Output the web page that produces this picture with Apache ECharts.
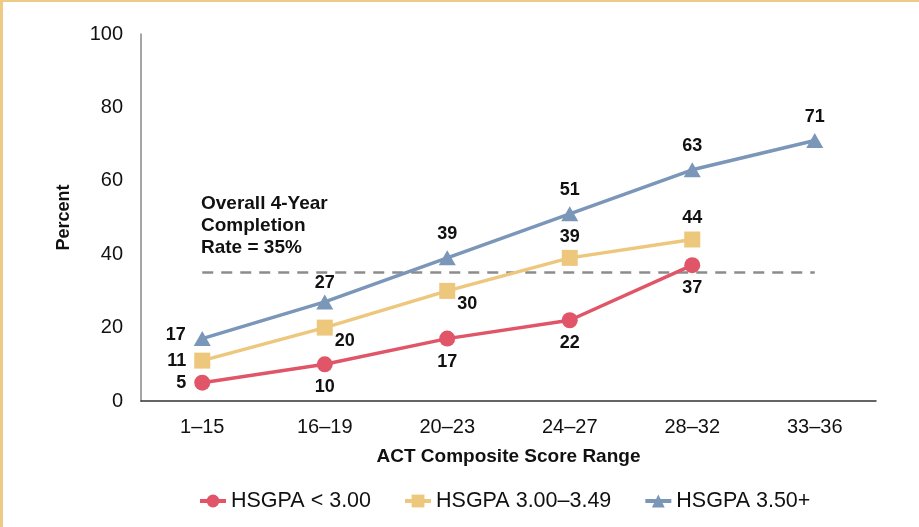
<!DOCTYPE html>
<html>
<head>
<meta charset="utf-8">
<script src="https://cdn.jsdelivr.net/npm/echarts@6/dist/echarts.min.js"></script>
<style>
  html, body { margin: 0; padding: 0; background: #fff; }
  #wrap { position: relative; width: 919px; height: 527px; overflow: hidden; }
  #chart { position: absolute; left: 0; top: 0; width: 919px; height: 527px; }
  .bl { position: absolute; left: 0; top: 0; width: 3px; height: 527px; background: #EDCB87; }
  .bt { position: absolute; left: 0; top: 0; width: 919px; height: 2px; background: #EDCB87; }
</style>
</head>
<body>
<div id="wrap">
  <div id="chart"></div>
  <div class="bl"></div>
  <div class="bt"></div>
</div>
<script>
const categories = ['1–15', '16–19', '20–23', '24–27', '28–32', '33–36'];
const seriesNames = ['HSGPA < 3.00', 'HSGPA 3.00–3.49', 'HSGPA 3.50+'];
const lowGpa = [5, 10, 17, 22, 37, null];
const midGpa = [11, 20, 30, 39, 44, null];
const highGpa = [17, 27, 39, 51, 63, 71];
const overallRate = 35;
const overallLine = categories.map(() => overallRate);
const yTicks = [0, 20, 40, 60, 80, 100];
const annotation = 'Overall 4-Year\nCompletion\nRate = 35%';

const FONT = '"Liberation Sans", Arial, Helvetica, sans-serif';
const RED = '#E05568';
const YEL = '#EDC77C';
const BLUE = '#7A96B8';

const labelBase = { show: true, color: '#111', fontWeight: 'bold', fontSize: 18, fontFamily: FONT };

function withLabels(values, fn) {
  return values.map((v, i) => {
    if (v === null) return null;
    const lab = fn(i);
    return lab ? { value: v, label: lab } : v;
  });
}

const chart = echarts.init(document.getElementById('chart'), null, { renderer: 'canvas' });
chart.setOption({
  animation: false,
  backgroundColor: '#fff',
  grid: { left: 141, right: 43, top: 34, bottom: 126, containLabel: false },
  legend: {
    data: seriesNames,
    left: 193, top: 485,
    itemWidth: 26, itemHeight: 16, itemGap: 32,
    lineStyle: { width: 4 },
    textStyle: { fontSize: 21.5, color: '#111', fontFamily: FONT }
  },
  xAxis: {
    type: 'category',
    data: categories,
    boundaryGap: true,
    axisLine: { show: true, lineStyle: { color: '#333', width: 1.5 } },
    axisTick: { show: false },
    axisLabel: { fontSize: 20, color: '#111', fontFamily: FONT, margin: 16 },
    name: 'ACT Composite Score Range',
    nameLocation: 'middle',
    nameGap: 46,
    nameTextStyle: { fontSize: 19, fontWeight: 'bold', color: '#111', fontFamily: FONT }
  },
  yAxis: {
    type: 'value',
    min: yTicks[0], max: yTicks[yTicks.length - 1], interval: yTicks[1] - yTicks[0],
    splitLine: { show: false },
    axisLine: { show: true, lineStyle: { color: '#888', width: 1.5 } },
    axisTick: { show: false },
    axisLabel: { fontSize: 20, color: '#111', fontFamily: FONT, margin: 18 },
    name: 'Percent',
    nameLocation: 'middle',
    nameGap: 68,
    nameRotate: 90,
    nameTextStyle: { fontSize: 18, fontWeight: 'bold', color: '#111', fontFamily: FONT }
  },
  graphic: [{
    type: 'text',
    left: 201, top: 193,
    style: {
      text: annotation,
      font: 'bold 19px ' + FONT,
      lineHeight: 22,
      fill: '#111'
    }
  }],
  series: [
    {
      name: 'overall',
      type: 'line',
      data: overallLine,
      symbol: 'none',
      silent: true,
      z: 1,
      lineStyle: { color: '#8C8C8C', width: 2.5, type: [11, 8] }
    },
    {
      name: seriesNames[0],
      type: 'line',
      data: withLabels(lowGpa, i => i === 0 ? { position: 'left', distance: 8 } : null),
      symbol: 'circle', symbolSize: 16,
      itemStyle: { color: RED },
      lineStyle: { color: RED, width: 3.5 },
      label: Object.assign({}, labelBase, { position: 'bottom', distance: 6 }),
      z: 3
    },
    {
      name: seriesNames[1],
      type: 'line',
      data: withLabels(midGpa, i => {
        if (i === 0) return { position: 'left', distance: 8 };
        if (i === 1 || i === 2) return { position: 'right', distance: 2, offset: [0, 13] };
        return null;
      }),
      symbol: 'rect', symbolSize: 16,
      itemStyle: { color: YEL },
      lineStyle: { color: YEL, width: 3.5 },
      label: Object.assign({}, labelBase, { position: 'top', distance: 4 }),
      z: 4
    },
    {
      name: seriesNames[2],
      type: 'line',
      data: withLabels(highGpa, i => {
        if (i === 0) return { position: 'left', distance: 8, offset: [0, -4] };
        if (i === 1) return { position: 'top', distance: 7, offset: [0, 5] };
        return null;
      }),
      symbol: 'triangle', symbolSize: [17, 15],
      itemStyle: { color: BLUE },
      lineStyle: { color: BLUE, width: 3.5 },
      label: Object.assign({}, labelBase, { position: 'top', distance: 7 }),
      z: 5
    }
  ]
});
</script>
</body>
</html>
